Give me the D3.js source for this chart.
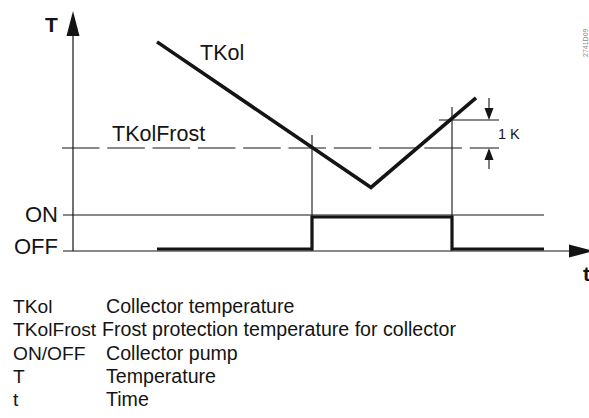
<!DOCTYPE html>
<html>
<head>
<meta charset="utf-8">
<script src="https://cdn.jsdelivr.net/npm/d3@7"></script>
<style>
  html, body { margin: 0; padding: 0; background: #fff; }
  svg { display: block; font-family: "Liberation Sans", Arial, Helvetica, sans-serif; }
</style>
</head>
<body>
<svg id="chart" width="589" height="418"></svg>
<script>
// Collector temperature curve (time units, temperature in K relative to TKolFrost)
const kolTimes = [1.68, 5.96, 8.06];
const kolTemps = [3.79, -1.41, 1.79];

// Thresholds: frost protection level and the 1 K switch-off hysteresis
const frostTemp = 0;
const hysteresis = 1;

// Pump switching instants and resulting pump state (0 = OFF, 1 = ON)
const switchTimes = [4.78, 7.58];
const switchLevels = [0, 1];
const pumpTimes = [1.68, 4.78, 4.78, 7.58, 7.58, 9.42];
const pumpStates = [0, 0, 1, 1, 0, 0];

// Axis / level labels
const stateLabels = ["OFF", "ON"];
const legendKeys = ["TKol", "TKolFrost", "ON/OFF", "T", "t"];
const legendTexts = [
  "Collector temperature",
  "Frost protection temperature for collector",
  "Collector pump",
  "Temperature",
  "Time"
];

const svg = d3.select("#chart");
const ink = "#141414";

// Scales
const x = d3.scaleLinear().domain([0, 10]).range([73, 573]);
const y = d3.scaleLinear().domain([0, 1]).range([148, 120]);
const stateY = d3.scaleLinear().domain([0, 1]).range([251, 215]);
const pumpY = stateY.copy().range([249, 217]);

// Y axis (temperature)
svg.append("line")
  .attr("x1", x(0)).attr("x2", x(0))
  .attr("y1", stateY(0)).attr("y2", 34)
  .attr("stroke", ink).attr("stroke-width", 1.2);
svg.append("path")
  .attr("d", d3.line()([[x(0) - 6.5, 36], [x(0), 11], [x(0) + 6.5, 36]]) + "Z")
  .attr("fill", ink);
svg.append("text")
  .attr("x", 45).attr("y", 32)
  .attr("font-size", 21).attr("font-weight", "bold").attr("fill", ink)
  .text("T");

// Time axis along the OFF level
svg.append("line")
  .attr("x1", 63).attr("x2", 571)
  .attr("y1", stateY(0)).attr("y2", stateY(0))
  .attr("stroke", ink).attr("stroke-width", 1.2);
svg.append("path")
  .attr("d", d3.line()([[569, stateY(0) - 6.5], [594, stateY(0)], [569, stateY(0) + 6.5]]) + "Z")
  .attr("fill", ink);
svg.append("text")
  .attr("x", 583).attr("y", 281)
  .attr("font-size", 21).attr("font-weight", "bold").attr("fill", ink)
  .text("t");

// ON reference level
svg.append("line")
  .attr("x1", 63).attr("x2", x(9.42))
  .attr("y1", stateY(1)).attr("y2", stateY(1))
  .attr("stroke", ink).attr("stroke-width", 1.1);

// State labels
svg.selectAll("text.state")
  .data(stateLabels)
  .join("text")
  .attr("class", "state")
  .attr("x", 58)
  .attr("y", (d, i) => stateY(i) + (i ? 7 : 3))
  .attr("text-anchor", "end")
  .attr("font-size", 22)
  .attr("fill", ink)
  .text(d => d);

// Frost protection level (dashed)
svg.append("line")
  .attr("x1", 62).attr("x2", 499)
  .attr("y1", y(frostTemp)).attr("y2", y(frostTemp))
  .attr("stroke", ink).attr("stroke-width", 1.1)
  .attr("stroke-dasharray", "37.5,7.8");
svg.append("text")
  .attr("x", 112).attr("y", 141)
  .attr("font-size", 21.5).attr("fill", ink)
  .text("TKolFrost");

// Frost + 1 K level
svg.append("line")
  .attr("x1", 439).attr("x2", 499)
  .attr("y1", y(frostTemp + hysteresis)).attr("y2", y(frostTemp + hysteresis))
  .attr("stroke", ink).attr("stroke-width", 1.1);

// Switching markers (vertical guides)
svg.selectAll("line.switch")
  .data(switchTimes)
  .join("line")
  .attr("class", "switch")
  .attr("x1", d => x(d)).attr("x2", d => x(d))
  .attr("y1", (d, i) => y(frostTemp + switchLevels[i] * hysteresis) - 13)
  .attr("y2", stateY(0))
  .attr("stroke", ink).attr("stroke-width", 1.1);

// 1 K dimension arrows
const dimX = x(8.32);
const yHi = y(frostTemp + hysteresis);
const yLo = y(frostTemp);
svg.append("line")
  .attr("x1", dimX).attr("x2", dimX).attr("y1", yHi - 22).attr("y2", yHi - 8)
  .attr("stroke", ink).attr("stroke-width", 1.1);
svg.append("path")
  .attr("d", d3.line()([[dimX - 4.5, yHi - 12], [dimX, yHi], [dimX + 4.5, yHi - 12]]) + "Z")
  .attr("fill", ink);
svg.append("line")
  .attr("x1", dimX).attr("x2", dimX).attr("y1", yLo + 8).attr("y2", yLo + 21)
  .attr("stroke", ink).attr("stroke-width", 1.1);
svg.append("path")
  .attr("d", d3.line()([[dimX - 4.5, yLo + 12], [dimX, yLo], [dimX + 4.5, yLo + 12]]) + "Z")
  .attr("fill", ink);
svg.append("text")
  .attr("x", 498).attr("y", 139)
  .attr("font-size", 14.5).attr("fill", ink)
  .text("1 K");

// Collector temperature curve
const kolData = kolTimes.map((t, i) => [t, kolTemps[i]]);
svg.append("path")
  .datum(kolData)
  .attr("d", d3.line().x(d => x(d[0])).y(d => y(d[1])))
  .attr("fill", "none")
  .attr("stroke", ink)
  .attr("stroke-width", 3.6)
  .attr("stroke-linejoin", "miter");
svg.append("text")
  .attr("x", 200).attr("y", 60)
  .attr("font-size", 21.5).attr("fill", ink)
  .text("TKol");

// Pump state signal
const pumpData = pumpTimes.map((t, i) => [t, pumpStates[i]]);
svg.append("path")
  .datum(pumpData)
  .attr("d", d3.line().x(d => x(d[0])).y(d => pumpY(d[1])))
  .attr("fill", "none")
  .attr("stroke", ink)
  .attr("stroke-width", 3.2)
  .attr("stroke-linejoin", "miter");

// Drawing reference code
svg.append("text")
  .attr("transform", "translate(588,57) rotate(-90)")
  .attr("font-size", 7).attr("fill", "#8a8a8a")
  .text("2741D09");

// Legend
const legend = svg.append("g");
const rowY = d3.scalePoint().domain(d3.range(legendKeys.length)).range([313, 406]);
legend.selectAll("text.key")
  .data(legendKeys)
  .join("text")
  .attr("class", "key")
  .attr("x", 13)
  .attr("y", (d, i) => rowY(i))
  .attr("font-size", 19.2).attr("fill", ink)
  .text(d => d);
legend.selectAll("text.desc")
  .data(legendTexts)
  .join("text")
  .attr("class", "desc")
  .attr("x", (d, i) => i === 1 ? 102 : 106)
  .attr("y", (d, i) => rowY(i))
  .attr("font-size", 19.6).attr("fill", ink)
  .text(d => d);
</script>
</body>
</html>
